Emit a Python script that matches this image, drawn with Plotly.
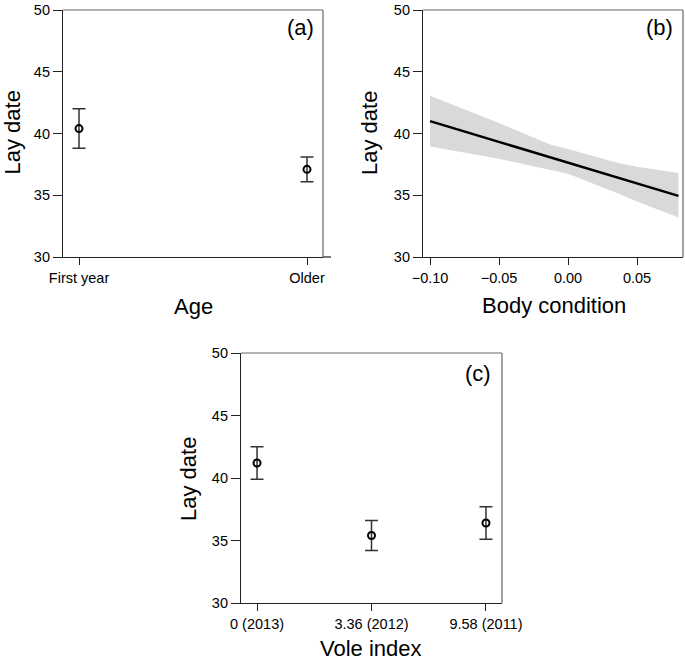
import plotly.graph_objects as go

W, H = 685, 661

# Panel (a): Age
age_labels = ["First year", "Older"]
age_mean = [40.4, 37.1]
age_lo = [38.8, 36.1]
age_hi = [42.0, 38.1]

# Panel (b): Body condition
bc_line_x = [-0.10, 0.08]
bc_line_y = [41.0, 34.95]
bc_band_x = [-0.10, -0.05, -0.013, 0.00, 0.035, 0.05, 0.08]
bc_band_upper = [43.05, 40.85, 39.1, 38.75, 37.65, 37.3, 36.8]
bc_band_lower = [38.95, 37.95, 37.05, 36.75, 35.2, 34.5, 33.2]

# Panel (c): Vole index
vole_labels = ["0 (2013)", "3.36 (2012)", "9.58 (2011)"]
vole_mean = [41.2, 35.4, 36.4]
vole_lo = [39.9, 34.2, 35.1]
vole_hi = [42.5, 36.6, 37.7]

y_ticks = [30, 35, 40, 45, 50]

FONT = "Liberation Sans, Arial, Helvetica, sans-serif"
AXC = "#222222"
BOXC = "#666666"


def px_x(p):
    return p / W


def px_y(p):
    return 1 - p / H


fig = go.Figure()

# ---- panel a
fig.add_trace(go.Scatter(
    x=list(range(len(age_labels))), y=age_mean, mode="markers",
    marker=dict(symbol="circle-open", size=7, color="black", line=dict(width=2, color="black")),
    error_y=dict(type="data", symmetric=False,
                 array=[h - m for h, m in zip(age_hi, age_mean)],
                 arrayminus=[m - l for m, l in zip(age_mean, age_lo)],
                 color="#333333", thickness=1.5, width=6.5),
    xaxis="x", yaxis="y", showlegend=False))

# ---- panel b
fig.add_trace(go.Scatter(
    x=bc_band_x + bc_band_x[::-1], y=bc_band_upper + bc_band_lower[::-1],
    fill="toself", fillcolor="#d9d9d9", line=dict(width=0), mode="lines",
    xaxis="x2", yaxis="y2", showlegend=False, hoverinfo="skip"))
fig.add_trace(go.Scatter(
    x=bc_line_x, y=bc_line_y, mode="lines", line=dict(color="black", width=2.5),
    xaxis="x2", yaxis="y2", showlegend=False))

# ---- panel c
fig.add_trace(go.Scatter(
    x=list(range(len(vole_labels))), y=vole_mean, mode="markers",
    marker=dict(symbol="circle-open", size=7, color="black", line=dict(width=2, color="black")),
    error_y=dict(type="data", symmetric=False,
                 array=[h - m for h, m in zip(vole_hi, vole_mean)],
                 arrayminus=[m - l for m, l in zip(vole_mean, vole_lo)],
                 color="#333333", thickness=1.5, width=6.5),
    xaxis="x3", yaxis="y3", showlegend=False))

tickfont = dict(family=FONT, size=14.5, color="black")

common_y = dict(range=[30, 50], tickvals=y_ticks, ticks="outside", ticklen=9, tickwidth=1.2,
                tickcolor=AXC, showline=True, linecolor=AXC, linewidth=1.2, showgrid=False,
                zeroline=False, tickfont=tickfont, automargin=False, ticklabeloverflow="allow")
common_x = dict(ticks="outside", ticklen=7, tickwidth=1.2, tickcolor=AXC, showline=True,
                linecolor=AXC, linewidth=1.2, showgrid=False, zeroline=False, tickfont=tickfont,
                automargin=False, ticklabeloverflow="allow")

dom_a = [px_x(63), px_x(323)]
dom_b = [px_x(423), px_x(683)]
dom_c = [px_x(241), px_x(502)]
ydom_top = [px_y(257), px_y(10)]
ydom_bot = [px_y(603), px_y(353)]

fig.update_layout(
    width=W, height=H, autosize=False,
    margin=dict(l=0, r=0, t=0, b=0, pad=0, autoexpand=False),
    paper_bgcolor="white", plot_bgcolor="white",
    font=dict(family=FONT, color="black"),
    xaxis=dict(domain=dom_a, anchor="y", range=[-0.0702, 1.0702],
               tickvals=list(range(len(age_labels))), ticktext=age_labels, **common_x),
    yaxis=dict(domain=ydom_top, anchor="x", **common_y),
    xaxis2=dict(domain=dom_b, anchor="y2", range=[-0.1051, 0.0833],
                tickvals=[-0.10, -0.05, 0.00, 0.05],
                ticktext=["\u22120.10", "\u22120.05", "0.00", "0.05"], **common_x),
    yaxis2=dict(domain=ydom_top, anchor="x2", **common_y),
    xaxis3=dict(domain=dom_c, anchor="y3", range=[-0.14, 2.14],
                tickvals=list(range(len(vole_labels))), ticktext=vole_labels, **common_x),
    yaxis3=dict(domain=ydom_bot, anchor="x3", **common_y),
)

# box borders (top and right) in gray
for xr, yr in [("x", "y"), ("x2", "y2"), ("x3", "y3")]:
    fig.add_shape(type="line", xref=f"{xr} domain", yref=f"{yr} domain",
                  x0=0, x1=1, y0=1, y1=1, line=dict(color=BOXC, width=1.2))
    fig.add_shape(type="line", xref=f"{xr} domain", yref=f"{yr} domain",
                  x0=1, x1=1, y0=0, y1=1, line=dict(color=BOXC, width=1.2))
# small extension of bottom axis line in panel a
fig.add_shape(type="line", xref="x domain", yref="y domain",
              x0=1, x1=1 + 8 / 260, y0=0, y1=0, line=dict(color=AXC, width=1.2))

title_font = dict(family=FONT, size=22, color="black")
ann = [
    ("Lay date", 12.5, 133, -90, "center"),
    ("Lay date", 370, 133, -90, "center"),
    ("Lay date", 188, 479, -90, "center"),
    ("Age", 193, 306, 0, "center"),
    ("Body condition", 554, 305, 0, "center"),
    ("Vole index", 371, 648, 0, "center"),
    ("(a)", 316, 28, 0, "right"),
    ("(b)", 675, 28, 0, "right"),
    ("(c)", 493, 373, 0, "right"),
]
for text, x, y, ang, xa in ann:
    fig.add_annotation(text=text, x=px_x(x), y=px_y(y), xref="paper", yref="paper",
                       showarrow=False, textangle=ang, xanchor=xa, yanchor="middle",
                       font=title_font)

fig.write_html(
    "out.html",
    config={"displayModeBar": False},
    post_script="document.body.style.margin='0';document.body.style.overflow='hidden';",
)
